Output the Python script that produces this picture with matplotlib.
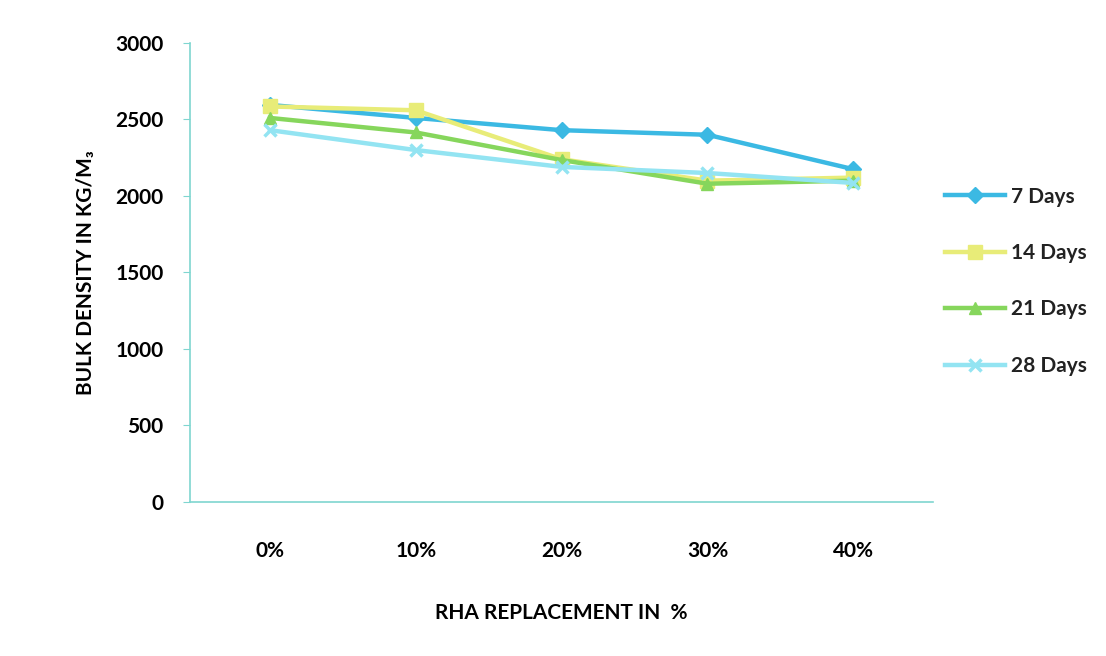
import matplotlib.pyplot as plt

# --- data ---
categories = ["0%", "10%", "20%", "30%", "40%"]
days_7 = [2595, 2510, 2430, 2400, 2175]
days_14 = [2585, 2560, 2240, 2100, 2120]
days_21 = [2510, 2415, 2235, 2080, 2100]
days_28 = [2430, 2300, 2190, 2150, 2085]
series_labels = ["7 Days", "14 Days", "21 Days", "28 Days"]
y_ticks = [0, 500, 1000, 1500, 2000, 2500, 3000]

plt.rcParams['font.family'] = ['Lato', 'DejaVu Sans']

fig = plt.figure(figsize=(11.06, 6.56), dpi=100)
ax = fig.add_axes([0.1718, 0.2348, 0.672, 0.6997])

xs = range(len(categories))
styles = [
    dict(color="#3bb9e3", marker="D", markersize=8),
    dict(color="#e8ec78", marker="s", markersize=10),
    dict(color="#86d65c", marker="^", markersize=9),
    dict(color="#93e4f2", marker="x", markersize=9, markeredgewidth=2.5),
]
for vals, lab, st in zip([days_7, days_14, days_21, days_28], series_labels, styles):
    ax.plot(xs, vals, linewidth=3.2, label=lab, **st)

ax.set_xlim(-0.548, 4.548)
ax.set_ylim(0, 3000)
ax.set_yticks(y_ticks)
ax.set_yticklabels([str(v) for v in y_ticks], fontsize=15, fontweight="bold")
ax.set_xticks(list(xs))
ax.set_xticklabels(categories, fontsize=15, fontweight="bold")
ax.tick_params(axis="x", length=0, pad=28)
ax.tick_params(axis="y", length=5, color="#7fd6d0", pad=14)

for side in ["top", "right"]:
    ax.spines[side].set_visible(False)
for side in ["left", "bottom"]:
    ax.spines[side].set_color("#7fd6d0")
    ax.spines[side].set_linewidth(1.2)

ax.set_ylabel("BULK DENSITY IN KG/M\u2083", fontsize=15, fontweight="bold", labelpad=14)
ax.set_xlabel("RHA REPLACEMENT IN  %", fontsize=15, fontweight="bold", labelpad=30)

leg = ax.legend(loc="upper left", bbox_to_anchor=(0.99, 0.728), frameon=False,
                fontsize=15, labelspacing=1.75, handlelength=2.9, handletextpad=0.3)
for t in leg.get_texts():
    t.set_fontweight("bold")
    t.set_color("#222222")

fig.savefig("out.png", dpi=100, facecolor="white")
